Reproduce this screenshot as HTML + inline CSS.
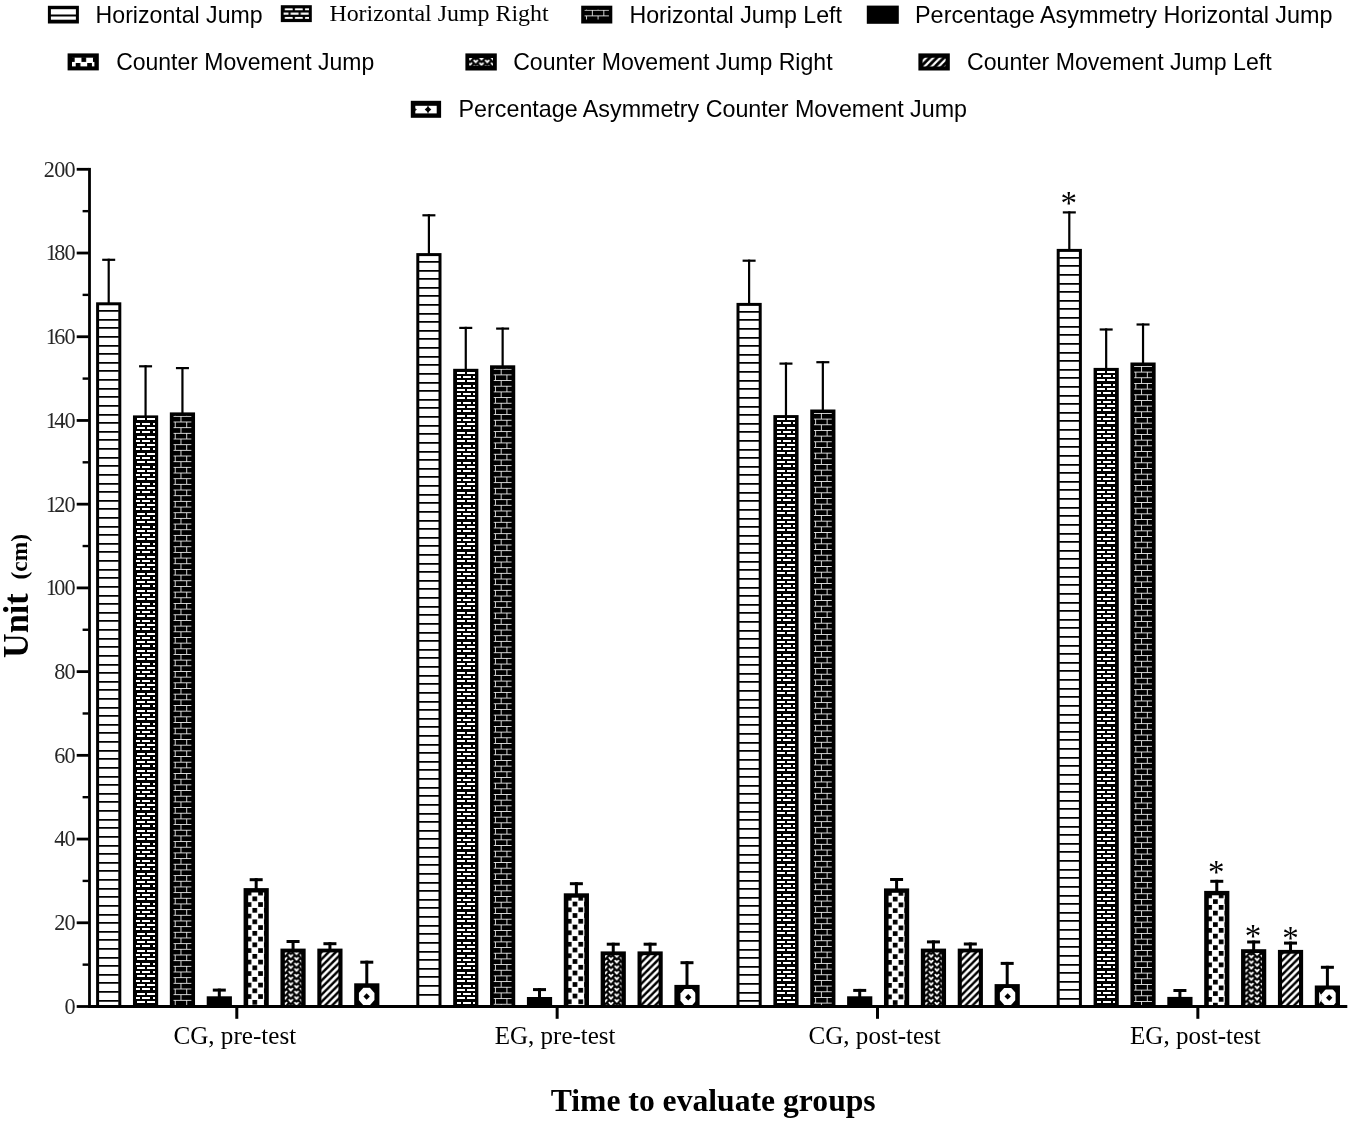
<!DOCTYPE html>
<html lang="en"><head><meta charset="utf-8"><title>Jump performance by group and time</title>
<style>html,body{margin:0;padding:0;background:#fff}svg{display:block;filter:grayscale(1)}</style></head><body>
<svg width="1350" height="1123" viewBox="0 0 1350 1123" fill="#000">
<rect width="1350" height="1123" fill="#fff"/>
<defs>
<pattern id="p1" patternUnits="userSpaceOnUse" x="0" y="4.29" width="40" height="8.62"><rect width="40" height="8.62" fill="#fff"/><rect y="3.36" width="40" height="1.9" fill="#000"/></pattern>
<pattern id="p2" patternUnits="userSpaceOnUse" x="3.9" y="3.03" width="10.1" height="8.57"><rect width="10.1" height="8.57" fill="#000"/><rect x="0" y="0" width="8.1" height="2" rx="0.8" fill="#fff"/><rect x="5.9" y="4.29" width="4.2" height="2.1" fill="#fff"/><rect x="0" y="4.29" width="3.9" height="2.1" fill="#fff"/></pattern>
<pattern id="p3" patternUnits="userSpaceOnUse" x="10.65" y="3.45" width="11.5" height="11.34"><rect width="11.5" height="11.34" fill="#000"/><g fill="#e8e8e8"><rect x="0" y="0" width="11.5" height="0.9"/><rect x="0" y="5.67" width="11.5" height="0.9"/><rect x="0" y="0" width="0.9" height="5.67"/><rect x="5.75" y="5.67" width="0.9" height="5.67"/></g></pattern>
<pattern id="p5" patternUnits="userSpaceOnUse" x="8.85" y="8.35" width="11.5" height="11.5"><rect width="11.5" height="11.5" fill="#fff"/><rect x="0" y="0" width="4.7" height="4.7" fill="#000"/><rect x="5.75" y="5.75" width="4.7" height="4.7" fill="#000"/></pattern>
<pattern id="p6" patternUnits="userSpaceOnUse" x="7.4" y="4.9" width="11.6" height="5.6"><rect width="11.6" height="5.6" fill="#000"/><g fill="#fff"><path transform="translate(2.9,2.8)" d="M-2.5,-1.8 L-1,-2 L0,-0.6 L1,-2 L2.5,-1.8 L2.3,-0.6 L0,1.8 L-2.3,-0.6 Z"/><path transform="translate(8.7,0)" d="M-2.5,-1.8 L-1,-2 L0,-0.6 L1,-2 L2.5,-1.8 L2.3,-0.6 L0,1.8 L-2.3,-0.6 Z"/><path transform="translate(8.7,5.6)" d="M-2.5,-1.8 L-1,-2 L0,-0.6 L1,-2 L2.5,-1.8 L2.3,-0.6 L0,1.8 L-2.3,-0.6 Z"/></g></pattern>
<pattern id="p7" patternUnits="userSpaceOnUse" x="4.2" y="0" width="7.1" height="7.1"><rect width="7.1" height="7.1" fill="#000"/><g stroke="#fff" stroke-width="2.6" stroke-linecap="square"><line x1="-7.1" y1="7.1" x2="7.1" y2="-7.1"/><line x1="0" y1="14.2" x2="14.2" y2="0"/><line x1="-7.1" y1="14.2" x2="14.2" y2="-7.1"/></g></pattern>
<pattern id="p2s" patternUnits="userSpaceOnUse" x="284.7" y="8.35" width="10.1" height="8.57"><rect width="10.1" height="8.57" fill="#000"/><rect x="0" y="0" width="8.1" height="2" rx="0.8" fill="#fff"/><rect x="5.9" y="4.29" width="4.2" height="2.1" fill="#fff"/><rect x="0" y="4.29" width="3.9" height="2.1" fill="#fff"/></pattern>
<pattern id="p3s" patternUnits="userSpaceOnUse" x="591.85" y="9.75" width="11.5" height="11.34"><rect width="11.5" height="11.34" fill="#000"/><g fill="#e8e8e8"><rect x="0" y="0" width="11.5" height="0.9"/><rect x="0" y="5.67" width="11.5" height="0.9"/><rect x="0" y="0" width="0.9" height="5.67"/><rect x="5.75" y="5.67" width="0.9" height="5.67"/></g></pattern>
<pattern id="p5s" patternUnits="userSpaceOnUse" x="81.45" y="57.25" width="11.5" height="11.5"><rect width="11.5" height="11.5" fill="#fff"/><rect x="0" y="0" width="4.7" height="4.7" fill="#000"/><rect x="5.75" y="5.75" width="4.7" height="4.7" fill="#000"/></pattern>
<pattern id="p6s" patternUnits="userSpaceOnUse" x="472.8" y="58.9" width="11.6" height="5.6"><rect width="11.6" height="5.6" fill="#000"/><g fill="#fff"><path transform="translate(2.9,2.8)" d="M-2.5,-1.8 L-1,-2 L0,-0.6 L1,-2 L2.5,-1.8 L2.3,-0.6 L0,1.8 L-2.3,-0.6 Z"/><path transform="translate(8.7,0)" d="M-2.5,-1.8 L-1,-2 L0,-0.6 L1,-2 L2.5,-1.8 L2.3,-0.6 L0,1.8 L-2.3,-0.6 Z"/><path transform="translate(8.7,5.6)" d="M-2.5,-1.8 L-1,-2 L0,-0.6 L1,-2 L2.5,-1.8 L2.3,-0.6 L0,1.8 L-2.3,-0.6 Z"/></g></pattern>
<pattern id="p7s" patternUnits="userSpaceOnUse" x="4.1" y="0" width="7.1" height="7.1"><rect width="7.1" height="7.1" fill="#000"/><g stroke="#fff" stroke-width="2.1" stroke-linecap="square"><line x1="-7.1" y1="7.1" x2="7.1" y2="-7.1"/><line x1="0" y1="14.2" x2="14.2" y2="0"/><line x1="-7.1" y1="14.2" x2="14.2" y2="-7.1"/></g></pattern>
</defs>
<g id="legend">
<rect x="47.9" y="5.8" width="31" height="17.7"/>
<rect x="50.9" y="9.2" width="25" height="5.3" fill="#fff"/>
<rect x="50.9" y="16.5" width="25" height="3.2" fill="#fff"/>
<text x="95.6" y="22.8" font-family='"Liberation Sans", Arial, sans-serif' font-size="23.4" textLength="167" lengthAdjust="spacingAndGlyphs">Horizontal Jump</text>
<rect x="280.8" y="5.2" width="31" height="16.9"/>
<rect x="283.6" y="8" width="25.4" height="11.3" fill="url(#p2s)"/>
<text x="329.4" y="20.7" font-family='"Liberation Serif", "Times New Roman", serif' font-size="22.2" textLength="219.2" lengthAdjust="spacingAndGlyphs">Horizontal Jump Right</text>
<rect x="581.2" y="5.7" width="31.1" height="17.8"/>
<rect x="584.6" y="9.65" width="24.3" height="9.85" fill="url(#p3s)"/>
<text x="629.4" y="22.7" font-family='"Liberation Sans", Arial, sans-serif' font-size="23.4" textLength="212.6" lengthAdjust="spacingAndGlyphs">Horizontal Jump Left</text>
<rect x="866.8" y="5.6" width="32" height="18.2"/>
<text x="915" y="22.6" font-family='"Liberation Sans", Arial, sans-serif' font-size="23.4" textLength="417.6" lengthAdjust="spacingAndGlyphs">Percentage Asymmetry Horizontal Jump</text>
<rect x="67.6" y="53.4" width="31.2" height="17"/>
<rect x="72" y="57.7" width="22.4" height="8.7" fill="url(#p5s)"/>
<text x="116.2" y="69.7" font-family='"Liberation Sans", Arial, sans-serif' font-size="23.4" textLength="258" lengthAdjust="spacingAndGlyphs">Counter Movement Jump</text>
<rect x="465.4" y="53.4" width="31.4" height="17.1"/>
<rect x="469.2" y="58" width="23.8" height="7.7" fill="url(#p6s)"/>
<text x="513.2" y="69.7" font-family='"Liberation Sans", Arial, sans-serif' font-size="23.4" textLength="319.4" lengthAdjust="spacingAndGlyphs">Counter Movement Jump Right</text>
<rect x="918.4" y="53.4" width="31.4" height="17.1"/>
<rect x="922.6" y="57.7" width="23" height="8.7" rx="1.5" fill="url(#p7s)"/>
<text x="967" y="69.7" font-family='"Liberation Sans", Arial, sans-serif' font-size="23.4" textLength="304.6" lengthAdjust="spacingAndGlyphs">Counter Movement Jump Left</text>
<rect x="410.8" y="100.8" width="30.3" height="17"/>
<rect x="415.3" y="105.8" width="21.4" height="7.6" fill="#fff"/>
<polygon points="424.7,109.6 428,106.6 431.3,109.6 428,112.6"/>
<rect x="427.5" y="105.8" width="1" height="7.6"/>
<polygon points="415.1,108.3 416.9,109.6 415.1,110.9"/>
<text x="458.6" y="117.2" font-family='"Liberation Sans", Arial, sans-serif' font-size="23.4" textLength="508.4" lengthAdjust="spacingAndGlyphs">Percentage Asymmetry Counter Movement Jump</text>
</g>
<g id="bars">
<rect x="107.6" y="258.7" width="2.2" height="44.6"/>
<rect x="102.2" y="258.7" width="13" height="2.2"/>
<rect x="96.1" y="302.3" width="25.2" height="705.7"/>
<rect x="99.1" y="305.3" width="19.2" height="699.7" fill="#fff"/>
<path d="M98.6,310h20.2v1.8h-20.2zM98.6,319h20.2v1.8h-20.2zM98.6,327h20.2v1.8h-20.2zM98.6,336h20.2v1.8h-20.2zM98.6,345h20.2v1.8h-20.2zM98.6,353h20.2v1.8h-20.2zM98.6,362h20.2v1.8h-20.2zM98.6,370h20.2v1.8h-20.2zM98.6,379h20.2v1.8h-20.2zM98.6,388h20.2v1.8h-20.2zM98.6,396h20.2v1.8h-20.2zM98.6,405h20.2v1.8h-20.2zM98.6,414h20.2v1.8h-20.2zM98.6,422h20.2v1.8h-20.2zM98.6,431h20.2v1.8h-20.2zM98.6,439h20.2v1.8h-20.2zM98.6,448h20.2v1.8h-20.2zM98.6,457h20.2v1.8h-20.2zM98.6,465h20.2v1.8h-20.2zM98.6,474h20.2v1.8h-20.2zM98.6,483h20.2v1.8h-20.2zM98.6,491h20.2v1.8h-20.2zM98.6,500h20.2v1.8h-20.2zM98.6,508h20.2v1.8h-20.2zM98.6,517h20.2v1.8h-20.2zM98.6,526h20.2v1.8h-20.2zM98.6,534h20.2v1.8h-20.2zM98.6,543h20.2v1.8h-20.2zM98.6,551h20.2v1.8h-20.2zM98.6,560h20.2v1.8h-20.2zM98.6,569h20.2v1.8h-20.2zM98.6,577h20.2v1.8h-20.2zM98.6,586h20.2v1.8h-20.2zM98.6,595h20.2v1.8h-20.2zM98.6,603h20.2v1.8h-20.2zM98.6,612h20.2v1.8h-20.2zM98.6,620h20.2v1.8h-20.2zM98.6,629h20.2v1.8h-20.2zM98.6,638h20.2v1.8h-20.2zM98.6,646h20.2v1.8h-20.2zM98.6,655h20.2v1.8h-20.2zM98.6,664h20.2v1.8h-20.2zM98.6,672h20.2v1.8h-20.2zM98.6,681h20.2v1.8h-20.2zM98.6,689h20.2v1.8h-20.2zM98.6,698h20.2v1.8h-20.2zM98.6,707h20.2v1.8h-20.2zM98.6,715h20.2v1.8h-20.2zM98.6,724h20.2v1.8h-20.2zM98.6,732h20.2v1.8h-20.2zM98.6,741h20.2v1.8h-20.2zM98.6,750h20.2v1.8h-20.2zM98.6,758h20.2v1.8h-20.2zM98.6,767h20.2v1.8h-20.2zM98.6,776h20.2v1.8h-20.2zM98.6,784h20.2v1.8h-20.2zM98.6,793h20.2v1.8h-20.2zM98.6,801h20.2v1.8h-20.2zM98.6,810h20.2v1.8h-20.2zM98.6,819h20.2v1.8h-20.2zM98.6,827h20.2v1.8h-20.2zM98.6,836h20.2v1.8h-20.2zM98.6,845h20.2v1.8h-20.2zM98.6,853h20.2v1.8h-20.2zM98.6,862h20.2v1.8h-20.2zM98.6,870h20.2v1.8h-20.2zM98.6,879h20.2v1.8h-20.2zM98.6,888h20.2v1.8h-20.2zM98.6,896h20.2v1.8h-20.2zM98.6,905h20.2v1.8h-20.2zM98.6,914h20.2v1.8h-20.2zM98.6,922h20.2v1.8h-20.2zM98.6,931h20.2v1.8h-20.2zM98.6,939h20.2v1.8h-20.2zM98.6,948h20.2v1.8h-20.2zM98.6,957h20.2v1.8h-20.2zM98.6,965h20.2v1.8h-20.2zM98.6,974h20.2v1.8h-20.2zM98.6,982h20.2v1.8h-20.2zM98.6,991h20.2v1.8h-20.2zM98.6,1000h20.2v1.8h-20.2z"/>
<rect x="144.47" y="365.2" width="2.2" height="51.2"/>
<rect x="139.07" y="365.2" width="13" height="2.2"/>
<rect x="132.97" y="415.4" width="25.2" height="592.6"/>
<path fill="#fff" d="M137,418h8v2h-8zM147,418h8v2h-8zM136,423h4v2h-4zM142,423h8v2h-8zM153,423h2v2h-2zM137,427h8v2h-8zM147,427h8v2h-8zM136,431h4v2h-4zM142,431h8v2h-8zM153,431h2v2h-2zM137,436h8v2h-8zM147,436h8v2h-8zM136,440h4v2h-4zM142,440h8v2h-8zM153,440h2v2h-2zM137,444h8v2h-8zM147,444h8v2h-8zM136,448h4v2h-4zM142,448h8v2h-8zM153,448h2v2h-2zM137,453h8v2h-8zM147,453h8v2h-8zM136,457h4v2h-4zM142,457h8v2h-8zM153,457h2v2h-2zM137,461h8v2h-8zM147,461h8v2h-8zM136,466h4v2h-4zM142,466h8v2h-8zM153,466h2v2h-2zM137,470h8v2h-8zM147,470h8v2h-8zM136,474h4v2h-4zM142,474h8v2h-8zM153,474h2v2h-2zM137,478h8v2h-8zM147,478h8v2h-8zM136,483h4v2h-4zM142,483h8v2h-8zM153,483h2v2h-2zM137,487h8v2h-8zM147,487h8v2h-8zM136,491h4v2h-4zM142,491h8v2h-8zM153,491h2v2h-2zM137,496h8v2h-8zM147,496h8v2h-8zM136,500h4v2h-4zM142,500h8v2h-8zM153,500h2v2h-2zM137,504h8v2h-8zM147,504h8v2h-8zM136,508h4v2h-4zM142,508h8v2h-8zM153,508h2v2h-2zM137,513h8v2h-8zM147,513h8v2h-8zM136,517h4v2h-4zM142,517h8v2h-8zM153,517h2v2h-2zM137,521h8v2h-8zM147,521h8v2h-8zM136,526h4v2h-4zM142,526h8v2h-8zM153,526h2v2h-2zM137,530h8v2h-8zM147,530h8v2h-8zM136,534h4v2h-4zM142,534h8v2h-8zM153,534h2v2h-2zM137,538h8v2h-8zM147,538h8v2h-8zM136,543h4v2h-4zM142,543h8v2h-8zM153,543h2v2h-2zM137,547h8v2h-8zM147,547h8v2h-8zM136,551h4v2h-4zM142,551h8v2h-8zM153,551h2v2h-2zM137,556h8v2h-8zM147,556h8v2h-8zM136,560h4v2h-4zM142,560h8v2h-8zM153,560h2v2h-2zM137,564h8v2h-8zM147,564h8v2h-8zM136,568h4v2h-4zM142,568h8v2h-8zM153,568h2v2h-2zM137,573h8v2h-8zM147,573h8v2h-8zM136,577h4v2h-4zM142,577h8v2h-8zM153,577h2v2h-2zM137,581h8v2h-8zM147,581h8v2h-8zM136,585h4v2h-4zM142,585h8v2h-8zM153,585h2v2h-2zM137,590h8v2h-8zM147,590h8v2h-8zM136,594h4v2h-4zM142,594h8v2h-8zM153,594h2v2h-2zM137,598h8v2h-8zM147,598h8v2h-8zM136,603h4v2h-4zM142,603h8v2h-8zM153,603h2v2h-2zM137,607h8v2h-8zM147,607h8v2h-8zM136,611h4v2h-4zM142,611h8v2h-8zM153,611h2v2h-2zM137,615h8v2h-8zM147,615h8v2h-8zM136,620h4v2h-4zM142,620h8v2h-8zM153,620h2v2h-2zM137,624h8v2h-8zM147,624h8v2h-8zM136,628h4v2h-4zM142,628h8v2h-8zM153,628h2v2h-2zM137,633h8v2h-8zM147,633h8v2h-8zM136,637h4v2h-4zM142,637h8v2h-8zM153,637h2v2h-2zM137,641h8v2h-8zM147,641h8v2h-8zM136,645h4v2h-4zM142,645h8v2h-8zM153,645h2v2h-2zM137,650h8v2h-8zM147,650h8v2h-8zM136,654h4v2h-4zM142,654h8v2h-8zM153,654h2v2h-2zM137,658h8v2h-8zM147,658h8v2h-8zM136,663h4v2h-4zM142,663h8v2h-8zM153,663h2v2h-2zM137,667h8v2h-8zM147,667h8v2h-8zM136,671h4v2h-4zM142,671h8v2h-8zM153,671h2v2h-2zM137,675h8v2h-8zM147,675h8v2h-8zM136,680h4v2h-4zM142,680h8v2h-8zM153,680h2v2h-2zM137,684h8v2h-8zM147,684h8v2h-8zM136,688h4v2h-4zM142,688h8v2h-8zM153,688h2v2h-2zM137,693h8v2h-8zM147,693h8v2h-8zM136,697h4v2h-4zM142,697h8v2h-8zM153,697h2v2h-2zM137,701h8v2h-8zM147,701h8v2h-8zM136,705h4v2h-4zM142,705h8v2h-8zM153,705h2v2h-2zM137,710h8v2h-8zM147,710h8v2h-8zM136,714h4v2h-4zM142,714h8v2h-8zM153,714h2v2h-2zM137,718h8v2h-8zM147,718h8v2h-8zM136,723h4v2h-4zM142,723h8v2h-8zM153,723h2v2h-2zM137,727h8v2h-8zM147,727h8v2h-8zM136,731h4v2h-4zM142,731h8v2h-8zM153,731h2v2h-2zM137,735h8v2h-8zM147,735h8v2h-8zM136,740h4v2h-4zM142,740h8v2h-8zM153,740h2v2h-2zM137,744h8v2h-8zM147,744h8v2h-8zM136,748h4v2h-4zM142,748h8v2h-8zM153,748h2v2h-2zM137,753h8v2h-8zM147,753h8v2h-8zM136,757h4v2h-4zM142,757h8v2h-8zM153,757h2v2h-2zM137,761h8v2h-8zM147,761h8v2h-8zM136,765h4v2h-4zM142,765h8v2h-8zM153,765h2v2h-2zM137,770h8v2h-8zM147,770h8v2h-8zM136,774h4v2h-4zM142,774h8v2h-8zM153,774h2v2h-2zM137,778h8v2h-8zM147,778h8v2h-8zM136,783h4v2h-4zM142,783h8v2h-8zM153,783h2v2h-2zM137,787h8v2h-8zM147,787h8v2h-8zM136,791h4v2h-4zM142,791h8v2h-8zM153,791h2v2h-2zM137,795h8v2h-8zM147,795h8v2h-8zM136,800h4v2h-4zM142,800h8v2h-8zM153,800h2v2h-2zM137,804h8v2h-8zM147,804h8v2h-8zM136,808h4v2h-4zM142,808h8v2h-8zM153,808h2v2h-2zM137,813h8v2h-8zM147,813h8v2h-8zM136,817h4v2h-4zM142,817h8v2h-8zM153,817h2v2h-2zM137,821h8v2h-8zM147,821h8v2h-8zM136,825h4v2h-4zM142,825h8v2h-8zM153,825h2v2h-2zM137,830h8v2h-8zM147,830h8v2h-8zM136,834h4v2h-4zM142,834h8v2h-8zM153,834h2v2h-2zM137,838h8v2h-8zM147,838h8v2h-8zM136,843h4v2h-4zM142,843h8v2h-8zM153,843h2v2h-2zM137,847h8v2h-8zM147,847h8v2h-8zM136,851h4v2h-4zM142,851h8v2h-8zM153,851h2v2h-2zM137,855h8v2h-8zM147,855h8v2h-8zM136,860h4v2h-4zM142,860h8v2h-8zM153,860h2v2h-2zM137,864h8v2h-8zM147,864h8v2h-8zM136,868h4v2h-4zM142,868h8v2h-8zM153,868h2v2h-2zM137,873h8v2h-8zM147,873h8v2h-8zM136,877h4v2h-4zM142,877h8v2h-8zM153,877h2v2h-2zM137,881h8v2h-8zM147,881h8v2h-8zM136,885h4v2h-4zM142,885h8v2h-8zM153,885h2v2h-2zM137,890h8v2h-8zM147,890h8v2h-8zM136,894h4v2h-4zM142,894h8v2h-8zM153,894h2v2h-2zM137,898h8v2h-8zM147,898h8v2h-8zM136,903h4v2h-4zM142,903h8v2h-8zM153,903h2v2h-2zM137,907h8v2h-8zM147,907h8v2h-8zM136,911h4v2h-4zM142,911h8v2h-8zM153,911h2v2h-2zM137,915h8v2h-8zM147,915h8v2h-8zM136,920h4v2h-4zM142,920h8v2h-8zM153,920h2v2h-2zM137,924h8v2h-8zM147,924h8v2h-8zM136,928h4v2h-4zM142,928h8v2h-8zM153,928h2v2h-2zM137,933h8v2h-8zM147,933h8v2h-8zM136,937h4v2h-4zM142,937h8v2h-8zM153,937h2v2h-2zM137,941h8v2h-8zM147,941h8v2h-8zM136,945h4v2h-4zM142,945h8v2h-8zM153,945h2v2h-2zM137,950h8v2h-8zM147,950h8v2h-8zM136,954h4v2h-4zM142,954h8v2h-8zM153,954h2v2h-2zM137,958h8v2h-8zM147,958h8v2h-8zM136,963h4v2h-4zM142,963h8v2h-8zM153,963h2v2h-2zM137,967h8v2h-8zM147,967h8v2h-8zM136,971h4v2h-4zM142,971h8v2h-8zM153,971h2v2h-2zM137,975h8v2h-8zM147,975h8v2h-8zM136,980h4v2h-4zM142,980h8v2h-8zM153,980h2v2h-2zM137,984h8v2h-8zM147,984h8v2h-8zM136,988h4v2h-4zM142,988h8v2h-8zM153,988h2v2h-2zM137,993h8v2h-8zM147,993h8v2h-8zM136,997h4v2h-4zM142,997h8v2h-8zM153,997h2v2h-2zM137,1001h8v2h-8zM147,1001h8v2h-8z"/>
<rect x="181.34" y="367" width="2.2" height="46.4"/>
<rect x="175.94" y="367" width="13" height="2.2"/>
<rect x="169.84" y="412.4" width="25.2" height="595.6"/>
<rect transform="translate(169.84,412.4)" x="3.7" y="3.45" width="17.8" height="589.15" fill="url(#p3)"/>
<rect x="217.81" y="988.6" width="3" height="8.7"/>
<rect x="212.81" y="988.6" width="13" height="3"/>
<rect x="206.71" y="996.3" width="25.2" height="11.7"/>
<rect x="254.68" y="878.2" width="3" height="10.9"/>
<rect x="249.68" y="878.2" width="13" height="3"/>
<rect x="243.58" y="888.1" width="25.2" height="119.9"/>
<rect transform="translate(243.58,888.1)" x="4.6" y="4.4" width="16" height="112.5" fill="url(#p5)"/>
<rect x="291.55" y="940" width="3" height="9.6"/>
<rect x="286.55" y="940" width="13" height="3"/>
<rect x="280.45" y="948.6" width="25.2" height="59.4"/>
<rect transform="translate(280.45,948.6)" x="4.4" y="3.8" width="16.4" height="52.6" fill="url(#p6)"/>
<rect x="328.42" y="942.2" width="3" height="7.4"/>
<rect x="323.42" y="942.2" width="13" height="3"/>
<rect x="317.32" y="948.6" width="25.2" height="59.4"/>
<rect transform="translate(317.32,948.6)" x="4.1" y="3.8" width="17" height="52.6" fill="url(#p7)"/>
<rect x="365.29" y="960.7" width="3" height="23.6"/>
<rect x="360.29" y="960.7" width="13" height="3"/>
<rect x="354.19" y="983.3" width="25.2" height="24.7"/>
<clipPath id="c1"><rect x="358.49" y="987.3" width="16.6" height="17.7"/></clipPath>
<g clip-path="url(#c1)"><polygon points="374.43,1000.11 369.87,1005.21 363.41,1005.21 358.85,1000.11 358.85,992.89 363.41,987.79 369.87,987.79 374.43,992.89" fill="#fff"/><polygon points="363.44,996.5 366.64,993.3 369.84,996.5 366.64,999.7" fill="#000"/>
</g>
<rect x="427.8" y="214.2" width="2.2" height="39.9"/>
<rect x="422.4" y="214.2" width="13" height="2.2"/>
<rect x="416.3" y="253.1" width="25.2" height="754.9"/>
<rect x="419.3" y="256.1" width="19.2" height="748.9" fill="#fff"/>
<path d="M418.8,261h20.2v1.8h-20.2zM418.8,270h20.2v1.8h-20.2zM418.8,278h20.2v1.8h-20.2zM418.8,287h20.2v1.8h-20.2zM418.8,295h20.2v1.8h-20.2zM418.8,304h20.2v1.8h-20.2zM418.8,313h20.2v1.8h-20.2zM418.8,321h20.2v1.8h-20.2zM418.8,330h20.2v1.8h-20.2zM418.8,338h20.2v1.8h-20.2zM418.8,347h20.2v1.8h-20.2zM418.8,356h20.2v1.8h-20.2zM418.8,364h20.2v1.8h-20.2zM418.8,373h20.2v1.8h-20.2zM418.8,382h20.2v1.8h-20.2zM418.8,390h20.2v1.8h-20.2zM418.8,399h20.2v1.8h-20.2zM418.8,407h20.2v1.8h-20.2zM418.8,416h20.2v1.8h-20.2zM418.8,425h20.2v1.8h-20.2zM418.8,433h20.2v1.8h-20.2zM418.8,442h20.2v1.8h-20.2zM418.8,451h20.2v1.8h-20.2zM418.8,459h20.2v1.8h-20.2zM418.8,468h20.2v1.8h-20.2zM418.8,476h20.2v1.8h-20.2zM418.8,485h20.2v1.8h-20.2zM418.8,494h20.2v1.8h-20.2zM418.8,502h20.2v1.8h-20.2zM418.8,511h20.2v1.8h-20.2zM418.8,520h20.2v1.8h-20.2zM418.8,528h20.2v1.8h-20.2zM418.8,537h20.2v1.8h-20.2zM418.8,545h20.2v1.8h-20.2zM418.8,554h20.2v1.8h-20.2zM418.8,563h20.2v1.8h-20.2zM418.8,571h20.2v1.8h-20.2zM418.8,580h20.2v1.8h-20.2zM418.8,588h20.2v1.8h-20.2zM418.8,597h20.2v1.8h-20.2zM418.8,606h20.2v1.8h-20.2zM418.8,614h20.2v1.8h-20.2zM418.8,623h20.2v1.8h-20.2zM418.8,632h20.2v1.8h-20.2zM418.8,640h20.2v1.8h-20.2zM418.8,649h20.2v1.8h-20.2zM418.8,657h20.2v1.8h-20.2zM418.8,666h20.2v1.8h-20.2zM418.8,675h20.2v1.8h-20.2zM418.8,683h20.2v1.8h-20.2zM418.8,692h20.2v1.8h-20.2zM418.8,701h20.2v1.8h-20.2zM418.8,709h20.2v1.8h-20.2zM418.8,718h20.2v1.8h-20.2zM418.8,726h20.2v1.8h-20.2zM418.8,735h20.2v1.8h-20.2zM418.8,744h20.2v1.8h-20.2zM418.8,752h20.2v1.8h-20.2zM418.8,761h20.2v1.8h-20.2zM418.8,769h20.2v1.8h-20.2zM418.8,778h20.2v1.8h-20.2zM418.8,787h20.2v1.8h-20.2zM418.8,795h20.2v1.8h-20.2zM418.8,804h20.2v1.8h-20.2zM418.8,813h20.2v1.8h-20.2zM418.8,821h20.2v1.8h-20.2zM418.8,830h20.2v1.8h-20.2zM418.8,838h20.2v1.8h-20.2zM418.8,847h20.2v1.8h-20.2zM418.8,856h20.2v1.8h-20.2zM418.8,864h20.2v1.8h-20.2zM418.8,873h20.2v1.8h-20.2zM418.8,882h20.2v1.8h-20.2zM418.8,890h20.2v1.8h-20.2zM418.8,899h20.2v1.8h-20.2zM418.8,907h20.2v1.8h-20.2zM418.8,916h20.2v1.8h-20.2zM418.8,925h20.2v1.8h-20.2zM418.8,933h20.2v1.8h-20.2zM418.8,942h20.2v1.8h-20.2zM418.8,951h20.2v1.8h-20.2zM418.8,959h20.2v1.8h-20.2zM418.8,968h20.2v1.8h-20.2zM418.8,976h20.2v1.8h-20.2zM418.8,985h20.2v1.8h-20.2zM418.8,994h20.2v1.8h-20.2z"/>
<rect x="464.67" y="326.8" width="2.2" height="43"/>
<rect x="459.27" y="326.8" width="13" height="2.2"/>
<rect x="453.17" y="368.8" width="25.2" height="639.2"/>
<path fill="#fff" d="M457,372h8v2h-8zM467,372h8v2h-8zM457,376h4v2h-4zM463,376h8v2h-8zM473,376h2v2h-2zM457,380h8v2h-8zM467,380h8v2h-8zM457,385h4v2h-4zM463,385h8v2h-8zM473,385h2v2h-2zM457,389h8v2h-8zM467,389h8v2h-8zM457,393h4v2h-4zM463,393h8v2h-8zM473,393h2v2h-2zM457,397h8v2h-8zM467,397h8v2h-8zM457,402h4v2h-4zM463,402h8v2h-8zM473,402h2v2h-2zM457,406h8v2h-8zM467,406h8v2h-8zM457,410h4v2h-4zM463,410h8v2h-8zM473,410h2v2h-2zM457,415h8v2h-8zM467,415h8v2h-8zM457,419h4v2h-4zM463,419h8v2h-8zM473,419h2v2h-2zM457,423h8v2h-8zM467,423h8v2h-8zM457,427h4v2h-4zM463,427h8v2h-8zM473,427h2v2h-2zM457,432h8v2h-8zM467,432h8v2h-8zM457,436h4v2h-4zM463,436h8v2h-8zM473,436h2v2h-2zM457,440h8v2h-8zM467,440h8v2h-8zM457,445h4v2h-4zM463,445h8v2h-8zM473,445h2v2h-2zM457,449h8v2h-8zM467,449h8v2h-8zM457,453h4v2h-4zM463,453h8v2h-8zM473,453h2v2h-2zM457,457h8v2h-8zM467,457h8v2h-8zM457,462h4v2h-4zM463,462h8v2h-8zM473,462h2v2h-2zM457,466h8v2h-8zM467,466h8v2h-8zM457,470h4v2h-4zM463,470h8v2h-8zM473,470h2v2h-2zM457,475h8v2h-8zM467,475h8v2h-8zM457,479h4v2h-4zM463,479h8v2h-8zM473,479h2v2h-2zM457,483h8v2h-8zM467,483h8v2h-8zM457,487h4v2h-4zM463,487h8v2h-8zM473,487h2v2h-2zM457,492h8v2h-8zM467,492h8v2h-8zM457,496h4v2h-4zM463,496h8v2h-8zM473,496h2v2h-2zM457,500h8v2h-8zM467,500h8v2h-8zM457,505h4v2h-4zM463,505h8v2h-8zM473,505h2v2h-2zM457,509h8v2h-8zM467,509h8v2h-8zM457,513h4v2h-4zM463,513h8v2h-8zM473,513h2v2h-2zM457,517h8v2h-8zM467,517h8v2h-8zM457,522h4v2h-4zM463,522h8v2h-8zM473,522h2v2h-2zM457,526h8v2h-8zM467,526h8v2h-8zM457,530h4v2h-4zM463,530h8v2h-8zM473,530h2v2h-2zM457,535h8v2h-8zM467,535h8v2h-8zM457,539h4v2h-4zM463,539h8v2h-8zM473,539h2v2h-2zM457,543h8v2h-8zM467,543h8v2h-8zM457,547h4v2h-4zM463,547h8v2h-8zM473,547h2v2h-2zM457,552h8v2h-8zM467,552h8v2h-8zM457,556h4v2h-4zM463,556h8v2h-8zM473,556h2v2h-2zM457,560h8v2h-8zM467,560h8v2h-8zM457,565h4v2h-4zM463,565h8v2h-8zM473,565h2v2h-2zM457,569h8v2h-8zM467,569h8v2h-8zM457,573h4v2h-4zM463,573h8v2h-8zM473,573h2v2h-2zM457,577h8v2h-8zM467,577h8v2h-8zM457,582h4v2h-4zM463,582h8v2h-8zM473,582h2v2h-2zM457,586h8v2h-8zM467,586h8v2h-8zM457,590h4v2h-4zM463,590h8v2h-8zM473,590h2v2h-2zM457,595h8v2h-8zM467,595h8v2h-8zM457,599h4v2h-4zM463,599h8v2h-8zM473,599h2v2h-2zM457,603h8v2h-8zM467,603h8v2h-8zM457,607h4v2h-4zM463,607h8v2h-8zM473,607h2v2h-2zM457,612h8v2h-8zM467,612h8v2h-8zM457,616h4v2h-4zM463,616h8v2h-8zM473,616h2v2h-2zM457,620h8v2h-8zM467,620h8v2h-8zM457,625h4v2h-4zM463,625h8v2h-8zM473,625h2v2h-2zM457,629h8v2h-8zM467,629h8v2h-8zM457,633h4v2h-4zM463,633h8v2h-8zM473,633h2v2h-2zM457,637h8v2h-8zM467,637h8v2h-8zM457,642h4v2h-4zM463,642h8v2h-8zM473,642h2v2h-2zM457,646h8v2h-8zM467,646h8v2h-8zM457,650h4v2h-4zM463,650h8v2h-8zM473,650h2v2h-2zM457,655h8v2h-8zM467,655h8v2h-8zM457,659h4v2h-4zM463,659h8v2h-8zM473,659h2v2h-2zM457,663h8v2h-8zM467,663h8v2h-8zM457,667h4v2h-4zM463,667h8v2h-8zM473,667h2v2h-2zM457,672h8v2h-8zM467,672h8v2h-8zM457,676h4v2h-4zM463,676h8v2h-8zM473,676h2v2h-2zM457,680h8v2h-8zM467,680h8v2h-8zM457,685h4v2h-4zM463,685h8v2h-8zM473,685h2v2h-2zM457,689h8v2h-8zM467,689h8v2h-8zM457,693h4v2h-4zM463,693h8v2h-8zM473,693h2v2h-2zM457,697h8v2h-8zM467,697h8v2h-8zM457,702h4v2h-4zM463,702h8v2h-8zM473,702h2v2h-2zM457,706h8v2h-8zM467,706h8v2h-8zM457,710h4v2h-4zM463,710h8v2h-8zM473,710h2v2h-2zM457,715h8v2h-8zM467,715h8v2h-8zM457,719h4v2h-4zM463,719h8v2h-8zM473,719h2v2h-2zM457,723h8v2h-8zM467,723h8v2h-8zM457,727h4v2h-4zM463,727h8v2h-8zM473,727h2v2h-2zM457,732h8v2h-8zM467,732h8v2h-8zM457,736h4v2h-4zM463,736h8v2h-8zM473,736h2v2h-2zM457,740h8v2h-8zM467,740h8v2h-8zM457,745h4v2h-4zM463,745h8v2h-8zM473,745h2v2h-2zM457,749h8v2h-8zM467,749h8v2h-8zM457,753h4v2h-4zM463,753h8v2h-8zM473,753h2v2h-2zM457,757h8v2h-8zM467,757h8v2h-8zM457,762h4v2h-4zM463,762h8v2h-8zM473,762h2v2h-2zM457,766h8v2h-8zM467,766h8v2h-8zM457,770h4v2h-4zM463,770h8v2h-8zM473,770h2v2h-2zM457,775h8v2h-8zM467,775h8v2h-8zM457,779h4v2h-4zM463,779h8v2h-8zM473,779h2v2h-2zM457,783h8v2h-8zM467,783h8v2h-8zM457,787h4v2h-4zM463,787h8v2h-8zM473,787h2v2h-2zM457,792h8v2h-8zM467,792h8v2h-8zM457,796h4v2h-4zM463,796h8v2h-8zM473,796h2v2h-2zM457,800h8v2h-8zM467,800h8v2h-8zM457,805h4v2h-4zM463,805h8v2h-8zM473,805h2v2h-2zM457,809h8v2h-8zM467,809h8v2h-8zM457,813h4v2h-4zM463,813h8v2h-8zM473,813h2v2h-2zM457,817h8v2h-8zM467,817h8v2h-8zM457,822h4v2h-4zM463,822h8v2h-8zM473,822h2v2h-2zM457,826h8v2h-8zM467,826h8v2h-8zM457,830h4v2h-4zM463,830h8v2h-8zM473,830h2v2h-2zM457,835h8v2h-8zM467,835h8v2h-8zM457,839h4v2h-4zM463,839h8v2h-8zM473,839h2v2h-2zM457,843h8v2h-8zM467,843h8v2h-8zM457,847h4v2h-4zM463,847h8v2h-8zM473,847h2v2h-2zM457,852h8v2h-8zM467,852h8v2h-8zM457,856h4v2h-4zM463,856h8v2h-8zM473,856h2v2h-2zM457,860h8v2h-8zM467,860h8v2h-8zM457,865h4v2h-4zM463,865h8v2h-8zM473,865h2v2h-2zM457,869h8v2h-8zM467,869h8v2h-8zM457,873h4v2h-4zM463,873h8v2h-8zM473,873h2v2h-2zM457,877h8v2h-8zM467,877h8v2h-8zM457,882h4v2h-4zM463,882h8v2h-8zM473,882h2v2h-2zM457,886h8v2h-8zM467,886h8v2h-8zM457,890h4v2h-4zM463,890h8v2h-8zM473,890h2v2h-2zM457,895h8v2h-8zM467,895h8v2h-8zM457,899h4v2h-4zM463,899h8v2h-8zM473,899h2v2h-2zM457,903h8v2h-8zM467,903h8v2h-8zM457,907h4v2h-4zM463,907h8v2h-8zM473,907h2v2h-2zM457,912h8v2h-8zM467,912h8v2h-8zM457,916h4v2h-4zM463,916h8v2h-8zM473,916h2v2h-2zM457,920h8v2h-8zM467,920h8v2h-8zM457,925h4v2h-4zM463,925h8v2h-8zM473,925h2v2h-2zM457,929h8v2h-8zM467,929h8v2h-8zM457,933h4v2h-4zM463,933h8v2h-8zM473,933h2v2h-2zM457,937h8v2h-8zM467,937h8v2h-8zM457,942h4v2h-4zM463,942h8v2h-8zM473,942h2v2h-2zM457,946h8v2h-8zM467,946h8v2h-8zM457,950h4v2h-4zM463,950h8v2h-8zM473,950h2v2h-2zM457,955h8v2h-8zM467,955h8v2h-8zM457,959h4v2h-4zM463,959h8v2h-8zM473,959h2v2h-2zM457,963h8v2h-8zM467,963h8v2h-8zM457,967h4v2h-4zM463,967h8v2h-8zM473,967h2v2h-2zM457,972h8v2h-8zM467,972h8v2h-8zM457,976h4v2h-4zM463,976h8v2h-8zM473,976h2v2h-2zM457,980h8v2h-8zM467,980h8v2h-8zM457,985h4v2h-4zM463,985h8v2h-8zM473,985h2v2h-2zM457,989h8v2h-8zM467,989h8v2h-8zM457,993h4v2h-4zM463,993h8v2h-8zM473,993h2v2h-2zM457,997h8v2h-8zM467,997h8v2h-8zM457,1002h4v2h-4zM463,1002h8v2h-8zM473,1002h2v2h-2z"/>
<rect x="501.54" y="327.5" width="2.2" height="38.8"/>
<rect x="496.14" y="327.5" width="13" height="2.2"/>
<rect x="490.04" y="365.3" width="25.2" height="642.7"/>
<rect transform="translate(490.04,365.3)" x="3.7" y="3.45" width="17.8" height="636.25" fill="url(#p3)"/>
<rect x="538.01" y="988.1" width="3" height="9.9"/>
<rect x="533.01" y="988.1" width="13" height="3"/>
<rect x="526.91" y="997" width="25.2" height="11"/>
<rect x="574.88" y="882.2" width="3" height="12.1"/>
<rect x="569.88" y="882.2" width="13" height="3"/>
<rect x="563.78" y="893.3" width="25.2" height="114.7"/>
<rect transform="translate(563.78,893.3)" x="4.6" y="4.4" width="16" height="107.3" fill="url(#p5)"/>
<rect x="611.75" y="942.7" width="3" height="9.7"/>
<rect x="606.75" y="942.7" width="13" height="3"/>
<rect x="600.65" y="951.4" width="25.2" height="56.6"/>
<rect transform="translate(600.65,951.4)" x="4.4" y="3.8" width="16.4" height="49.8" fill="url(#p6)"/>
<rect x="648.62" y="942.7" width="3" height="9.7"/>
<rect x="643.62" y="942.7" width="13" height="3"/>
<rect x="637.52" y="951.4" width="25.2" height="56.6"/>
<rect transform="translate(637.52,951.4)" x="4.1" y="3.8" width="17" height="49.8" fill="url(#p7)"/>
<rect x="685.49" y="961.2" width="3" height="24.7"/>
<rect x="680.49" y="961.2" width="13" height="3"/>
<rect x="674.39" y="984.9" width="25.2" height="23.1"/>
<clipPath id="c2"><rect x="678.69" y="988.9" width="16.6" height="16.1"/></clipPath>
<g clip-path="url(#c2)"><polygon points="696.03,1000.81 691.47,1005.91 685.01,1005.91 680.45,1000.81 680.45,993.59 685.01,988.49 691.47,988.49 696.03,993.59" fill="#fff"/><polygon points="685.04,997.2 688.24,994 691.44,997.2 688.24,1000.4" fill="#000"/>
</g>
<rect x="748" y="259.6" width="2.2" height="44.3"/>
<rect x="742.6" y="259.6" width="13" height="2.2"/>
<rect x="736.5" y="302.9" width="25.2" height="705.1"/>
<rect x="739.5" y="305.9" width="19.2" height="699.1" fill="#fff"/>
<path d="M739,311h20.2v1.8h-20.2zM739,319h20.2v1.8h-20.2zM739,328h20.2v1.8h-20.2zM739,337h20.2v1.8h-20.2zM739,345h20.2v1.8h-20.2zM739,354h20.2v1.8h-20.2zM739,362h20.2v1.8h-20.2zM739,371h20.2v1.8h-20.2zM739,380h20.2v1.8h-20.2zM739,388h20.2v1.8h-20.2zM739,397h20.2v1.8h-20.2zM739,406h20.2v1.8h-20.2zM739,414h20.2v1.8h-20.2zM739,423h20.2v1.8h-20.2zM739,431h20.2v1.8h-20.2zM739,440h20.2v1.8h-20.2zM739,449h20.2v1.8h-20.2zM739,457h20.2v1.8h-20.2zM739,466h20.2v1.8h-20.2zM739,474h20.2v1.8h-20.2zM739,483h20.2v1.8h-20.2zM739,492h20.2v1.8h-20.2zM739,500h20.2v1.8h-20.2zM739,509h20.2v1.8h-20.2zM739,518h20.2v1.8h-20.2zM739,526h20.2v1.8h-20.2zM739,535h20.2v1.8h-20.2zM739,543h20.2v1.8h-20.2zM739,552h20.2v1.8h-20.2zM739,561h20.2v1.8h-20.2zM739,569h20.2v1.8h-20.2zM739,578h20.2v1.8h-20.2zM739,587h20.2v1.8h-20.2zM739,595h20.2v1.8h-20.2zM739,604h20.2v1.8h-20.2zM739,612h20.2v1.8h-20.2zM739,621h20.2v1.8h-20.2zM739,630h20.2v1.8h-20.2zM739,638h20.2v1.8h-20.2zM739,647h20.2v1.8h-20.2zM739,656h20.2v1.8h-20.2zM739,664h20.2v1.8h-20.2zM739,673h20.2v1.8h-20.2zM739,681h20.2v1.8h-20.2zM739,690h20.2v1.8h-20.2zM739,699h20.2v1.8h-20.2zM739,707h20.2v1.8h-20.2zM739,716h20.2v1.8h-20.2zM739,724h20.2v1.8h-20.2zM739,733h20.2v1.8h-20.2zM739,742h20.2v1.8h-20.2zM739,750h20.2v1.8h-20.2zM739,759h20.2v1.8h-20.2zM739,768h20.2v1.8h-20.2zM739,776h20.2v1.8h-20.2zM739,785h20.2v1.8h-20.2zM739,793h20.2v1.8h-20.2zM739,802h20.2v1.8h-20.2zM739,811h20.2v1.8h-20.2zM739,819h20.2v1.8h-20.2zM739,828h20.2v1.8h-20.2zM739,837h20.2v1.8h-20.2zM739,845h20.2v1.8h-20.2zM739,854h20.2v1.8h-20.2zM739,862h20.2v1.8h-20.2zM739,871h20.2v1.8h-20.2zM739,880h20.2v1.8h-20.2zM739,888h20.2v1.8h-20.2zM739,897h20.2v1.8h-20.2zM739,905h20.2v1.8h-20.2zM739,914h20.2v1.8h-20.2zM739,923h20.2v1.8h-20.2zM739,931h20.2v1.8h-20.2zM739,940h20.2v1.8h-20.2zM739,949h20.2v1.8h-20.2zM739,957h20.2v1.8h-20.2zM739,966h20.2v1.8h-20.2zM739,974h20.2v1.8h-20.2zM739,983h20.2v1.8h-20.2zM739,992h20.2v1.8h-20.2zM739,1000h20.2v1.8h-20.2z"/>
<rect x="784.87" y="362.5" width="2.2" height="53.6"/>
<rect x="779.47" y="362.5" width="13" height="2.2"/>
<rect x="773.37" y="415.1" width="25.2" height="592.9"/>
<path fill="#fff" d="M777,418h8v2h-8zM787,418h8v2h-8zM777,422h4v2h-4zM783,422h8v2h-8zM793,422h2v2h-2zM777,427h8v2h-8zM787,427h8v2h-8zM777,431h4v2h-4zM783,431h8v2h-8zM793,431h2v2h-2zM777,435h8v2h-8zM787,435h8v2h-8zM777,440h4v2h-4zM783,440h8v2h-8zM793,440h2v2h-2zM777,444h8v2h-8zM787,444h8v2h-8zM777,448h4v2h-4zM783,448h8v2h-8zM793,448h2v2h-2zM777,452h8v2h-8zM787,452h8v2h-8zM777,457h4v2h-4zM783,457h8v2h-8zM793,457h2v2h-2zM777,461h8v2h-8zM787,461h8v2h-8zM777,465h4v2h-4zM783,465h8v2h-8zM793,465h2v2h-2zM777,470h8v2h-8zM787,470h8v2h-8zM777,474h4v2h-4zM783,474h8v2h-8zM793,474h2v2h-2zM777,478h8v2h-8zM787,478h8v2h-8zM777,482h4v2h-4zM783,482h8v2h-8zM793,482h2v2h-2zM777,487h8v2h-8zM787,487h8v2h-8zM777,491h4v2h-4zM783,491h8v2h-8zM793,491h2v2h-2zM777,495h8v2h-8zM787,495h8v2h-8zM777,499h4v2h-4zM783,499h8v2h-8zM793,499h2v2h-2zM777,504h8v2h-8zM787,504h8v2h-8zM777,508h4v2h-4zM783,508h8v2h-8zM793,508h2v2h-2zM777,512h8v2h-8zM787,512h8v2h-8zM777,517h4v2h-4zM783,517h8v2h-8zM793,517h2v2h-2zM777,521h8v2h-8zM787,521h8v2h-8zM777,525h4v2h-4zM783,525h8v2h-8zM793,525h2v2h-2zM777,529h8v2h-8zM787,529h8v2h-8zM777,534h4v2h-4zM783,534h8v2h-8zM793,534h2v2h-2zM777,538h8v2h-8zM787,538h8v2h-8zM777,542h4v2h-4zM783,542h8v2h-8zM793,542h2v2h-2zM777,547h8v2h-8zM787,547h8v2h-8zM777,551h4v2h-4zM783,551h8v2h-8zM793,551h2v2h-2zM777,555h8v2h-8zM787,555h8v2h-8zM777,559h4v2h-4zM783,559h8v2h-8zM793,559h2v2h-2zM777,564h8v2h-8zM787,564h8v2h-8zM777,568h4v2h-4zM783,568h8v2h-8zM793,568h2v2h-2zM777,572h8v2h-8zM787,572h8v2h-8zM777,577h4v2h-4zM783,577h8v2h-8zM793,577h2v2h-2zM777,581h8v2h-8zM787,581h8v2h-8zM777,585h4v2h-4zM783,585h8v2h-8zM793,585h2v2h-2zM777,589h8v2h-8zM787,589h8v2h-8zM777,594h4v2h-4zM783,594h8v2h-8zM793,594h2v2h-2zM777,598h8v2h-8zM787,598h8v2h-8zM777,602h4v2h-4zM783,602h8v2h-8zM793,602h2v2h-2zM777,607h8v2h-8zM787,607h8v2h-8zM777,611h4v2h-4zM783,611h8v2h-8zM793,611h2v2h-2zM777,615h8v2h-8zM787,615h8v2h-8zM777,619h4v2h-4zM783,619h8v2h-8zM793,619h2v2h-2zM777,624h8v2h-8zM787,624h8v2h-8zM777,628h4v2h-4zM783,628h8v2h-8zM793,628h2v2h-2zM777,632h8v2h-8zM787,632h8v2h-8zM777,637h4v2h-4zM783,637h8v2h-8zM793,637h2v2h-2zM777,641h8v2h-8zM787,641h8v2h-8zM777,645h4v2h-4zM783,645h8v2h-8zM793,645h2v2h-2zM777,649h8v2h-8zM787,649h8v2h-8zM777,654h4v2h-4zM783,654h8v2h-8zM793,654h2v2h-2zM777,658h8v2h-8zM787,658h8v2h-8zM777,662h4v2h-4zM783,662h8v2h-8zM793,662h2v2h-2zM777,667h8v2h-8zM787,667h8v2h-8zM777,671h4v2h-4zM783,671h8v2h-8zM793,671h2v2h-2zM777,675h8v2h-8zM787,675h8v2h-8zM777,679h4v2h-4zM783,679h8v2h-8zM793,679h2v2h-2zM777,684h8v2h-8zM787,684h8v2h-8zM777,688h4v2h-4zM783,688h8v2h-8zM793,688h2v2h-2zM777,692h8v2h-8zM787,692h8v2h-8zM777,697h4v2h-4zM783,697h8v2h-8zM793,697h2v2h-2zM777,701h8v2h-8zM787,701h8v2h-8zM777,705h4v2h-4zM783,705h8v2h-8zM793,705h2v2h-2zM777,709h8v2h-8zM787,709h8v2h-8zM777,714h4v2h-4zM783,714h8v2h-8zM793,714h2v2h-2zM777,718h8v2h-8zM787,718h8v2h-8zM777,722h4v2h-4zM783,722h8v2h-8zM793,722h2v2h-2zM777,727h8v2h-8zM787,727h8v2h-8zM777,731h4v2h-4zM783,731h8v2h-8zM793,731h2v2h-2zM777,735h8v2h-8zM787,735h8v2h-8zM777,739h4v2h-4zM783,739h8v2h-8zM793,739h2v2h-2zM777,744h8v2h-8zM787,744h8v2h-8zM777,748h4v2h-4zM783,748h8v2h-8zM793,748h2v2h-2zM777,752h8v2h-8zM787,752h8v2h-8zM777,757h4v2h-4zM783,757h8v2h-8zM793,757h2v2h-2zM777,761h8v2h-8zM787,761h8v2h-8zM777,765h4v2h-4zM783,765h8v2h-8zM793,765h2v2h-2zM777,769h8v2h-8zM787,769h8v2h-8zM777,774h4v2h-4zM783,774h8v2h-8zM793,774h2v2h-2zM777,778h8v2h-8zM787,778h8v2h-8zM777,782h4v2h-4zM783,782h8v2h-8zM793,782h2v2h-2zM777,787h8v2h-8zM787,787h8v2h-8zM777,791h4v2h-4zM783,791h8v2h-8zM793,791h2v2h-2zM777,795h8v2h-8zM787,795h8v2h-8zM777,799h4v2h-4zM783,799h8v2h-8zM793,799h2v2h-2zM777,804h8v2h-8zM787,804h8v2h-8zM777,808h4v2h-4zM783,808h8v2h-8zM793,808h2v2h-2zM777,812h8v2h-8zM787,812h8v2h-8zM777,817h4v2h-4zM783,817h8v2h-8zM793,817h2v2h-2zM777,821h8v2h-8zM787,821h8v2h-8zM777,825h4v2h-4zM783,825h8v2h-8zM793,825h2v2h-2zM777,829h8v2h-8zM787,829h8v2h-8zM777,834h4v2h-4zM783,834h8v2h-8zM793,834h2v2h-2zM777,838h8v2h-8zM787,838h8v2h-8zM777,842h4v2h-4zM783,842h8v2h-8zM793,842h2v2h-2zM777,847h8v2h-8zM787,847h8v2h-8zM777,851h4v2h-4zM783,851h8v2h-8zM793,851h2v2h-2zM777,855h8v2h-8zM787,855h8v2h-8zM777,859h4v2h-4zM783,859h8v2h-8zM793,859h2v2h-2zM777,864h8v2h-8zM787,864h8v2h-8zM777,868h4v2h-4zM783,868h8v2h-8zM793,868h2v2h-2zM777,872h8v2h-8zM787,872h8v2h-8zM777,877h4v2h-4zM783,877h8v2h-8zM793,877h2v2h-2zM777,881h8v2h-8zM787,881h8v2h-8zM777,885h4v2h-4zM783,885h8v2h-8zM793,885h2v2h-2zM777,889h8v2h-8zM787,889h8v2h-8zM777,894h4v2h-4zM783,894h8v2h-8zM793,894h2v2h-2zM777,898h8v2h-8zM787,898h8v2h-8zM777,902h4v2h-4zM783,902h8v2h-8zM793,902h2v2h-2zM777,907h8v2h-8zM787,907h8v2h-8zM777,911h4v2h-4zM783,911h8v2h-8zM793,911h2v2h-2zM777,915h8v2h-8zM787,915h8v2h-8zM777,919h4v2h-4zM783,919h8v2h-8zM793,919h2v2h-2zM777,924h8v2h-8zM787,924h8v2h-8zM777,928h4v2h-4zM783,928h8v2h-8zM793,928h2v2h-2zM777,932h8v2h-8zM787,932h8v2h-8zM777,937h4v2h-4zM783,937h8v2h-8zM793,937h2v2h-2zM777,941h8v2h-8zM787,941h8v2h-8zM777,945h4v2h-4zM783,945h8v2h-8zM793,945h2v2h-2zM777,949h8v2h-8zM787,949h8v2h-8zM777,954h4v2h-4zM783,954h8v2h-8zM793,954h2v2h-2zM777,958h8v2h-8zM787,958h8v2h-8zM777,962h4v2h-4zM783,962h8v2h-8zM793,962h2v2h-2zM777,967h8v2h-8zM787,967h8v2h-8zM777,971h4v2h-4zM783,971h8v2h-8zM793,971h2v2h-2zM777,975h8v2h-8zM787,975h8v2h-8zM777,979h4v2h-4zM783,979h8v2h-8zM793,979h2v2h-2zM777,984h8v2h-8zM787,984h8v2h-8zM777,988h4v2h-4zM783,988h8v2h-8zM793,988h2v2h-2zM777,992h8v2h-8zM787,992h8v2h-8zM777,997h4v2h-4zM783,997h8v2h-8zM793,997h2v2h-2zM777,1001h8v2h-8zM787,1001h8v2h-8z"/>
<rect x="821.74" y="361.1" width="2.2" height="49.4"/>
<rect x="816.34" y="361.1" width="13" height="2.2"/>
<rect x="810.24" y="409.5" width="25.2" height="598.5"/>
<rect transform="translate(810.24,409.5)" x="3.7" y="3.45" width="17.8" height="592.05" fill="url(#p3)"/>
<rect x="858.21" y="988.9" width="3" height="8.4"/>
<rect x="853.21" y="988.9" width="13" height="3"/>
<rect x="847.11" y="996.3" width="25.2" height="11.7"/>
<rect x="895.08" y="878" width="3" height="11.4"/>
<rect x="890.08" y="878" width="13" height="3"/>
<rect x="883.98" y="888.4" width="25.2" height="119.6"/>
<rect transform="translate(883.98,888.4)" x="4.6" y="4.4" width="16" height="112.2" fill="url(#p5)"/>
<rect x="931.95" y="940.4" width="3" height="9.2"/>
<rect x="926.95" y="940.4" width="13" height="3"/>
<rect x="920.85" y="948.6" width="25.2" height="59.4"/>
<rect transform="translate(920.85,948.6)" x="4.4" y="3.8" width="16.4" height="52.6" fill="url(#p6)"/>
<rect x="968.82" y="942.5" width="3" height="7.1"/>
<rect x="963.82" y="942.5" width="13" height="3"/>
<rect x="957.72" y="948.6" width="25.2" height="59.4"/>
<rect transform="translate(957.72,948.6)" x="4.1" y="3.8" width="17" height="52.6" fill="url(#p7)"/>
<rect x="1005.69" y="961.9" width="3" height="23.2"/>
<rect x="1000.69" y="961.9" width="13" height="3"/>
<rect x="994.59" y="984.1" width="25.2" height="23.9"/>
<clipPath id="c3"><rect x="998.89" y="988.1" width="16.6" height="16.9"/></clipPath>
<g clip-path="url(#c3)"><polygon points="1015.48,1000.01 1010.92,1005.11 1004.46,1005.11 999.9,1000.01 999.9,992.79 1004.46,987.69 1010.92,987.69 1015.48,992.79" fill="#fff"/><polygon points="1004.49,996.4 1007.69,993.2 1010.89,996.4 1007.69,999.6" fill="#000"/>
</g>
<rect x="1068.2" y="211.3" width="2.2" height="38.6"/>
<rect x="1062.8" y="211.3" width="13" height="2.2"/>
<rect x="1056.7" y="248.9" width="25.2" height="759.1"/>
<rect x="1059.7" y="251.9" width="19.2" height="753.1" fill="#fff"/>
<path d="M1059.2,257h20.2v1.8h-20.2zM1059.2,265h20.2v1.8h-20.2zM1059.2,274h20.2v1.8h-20.2zM1059.2,283h20.2v1.8h-20.2zM1059.2,291h20.2v1.8h-20.2zM1059.2,300h20.2v1.8h-20.2zM1059.2,308h20.2v1.8h-20.2zM1059.2,317h20.2v1.8h-20.2zM1059.2,326h20.2v1.8h-20.2zM1059.2,334h20.2v1.8h-20.2zM1059.2,343h20.2v1.8h-20.2zM1059.2,352h20.2v1.8h-20.2zM1059.2,360h20.2v1.8h-20.2zM1059.2,369h20.2v1.8h-20.2zM1059.2,377h20.2v1.8h-20.2zM1059.2,386h20.2v1.8h-20.2zM1059.2,395h20.2v1.8h-20.2zM1059.2,403h20.2v1.8h-20.2zM1059.2,412h20.2v1.8h-20.2zM1059.2,420h20.2v1.8h-20.2zM1059.2,429h20.2v1.8h-20.2zM1059.2,438h20.2v1.8h-20.2zM1059.2,446h20.2v1.8h-20.2zM1059.2,455h20.2v1.8h-20.2zM1059.2,464h20.2v1.8h-20.2zM1059.2,472h20.2v1.8h-20.2zM1059.2,481h20.2v1.8h-20.2zM1059.2,489h20.2v1.8h-20.2zM1059.2,498h20.2v1.8h-20.2zM1059.2,507h20.2v1.8h-20.2zM1059.2,515h20.2v1.8h-20.2zM1059.2,524h20.2v1.8h-20.2zM1059.2,533h20.2v1.8h-20.2zM1059.2,541h20.2v1.8h-20.2zM1059.2,550h20.2v1.8h-20.2zM1059.2,558h20.2v1.8h-20.2zM1059.2,567h20.2v1.8h-20.2zM1059.2,576h20.2v1.8h-20.2zM1059.2,584h20.2v1.8h-20.2zM1059.2,593h20.2v1.8h-20.2zM1059.2,602h20.2v1.8h-20.2zM1059.2,610h20.2v1.8h-20.2zM1059.2,619h20.2v1.8h-20.2zM1059.2,627h20.2v1.8h-20.2zM1059.2,636h20.2v1.8h-20.2zM1059.2,645h20.2v1.8h-20.2zM1059.2,653h20.2v1.8h-20.2zM1059.2,662h20.2v1.8h-20.2zM1059.2,670h20.2v1.8h-20.2zM1059.2,679h20.2v1.8h-20.2zM1059.2,688h20.2v1.8h-20.2zM1059.2,696h20.2v1.8h-20.2zM1059.2,705h20.2v1.8h-20.2zM1059.2,714h20.2v1.8h-20.2zM1059.2,722h20.2v1.8h-20.2zM1059.2,731h20.2v1.8h-20.2zM1059.2,739h20.2v1.8h-20.2zM1059.2,748h20.2v1.8h-20.2zM1059.2,757h20.2v1.8h-20.2zM1059.2,765h20.2v1.8h-20.2zM1059.2,774h20.2v1.8h-20.2zM1059.2,783h20.2v1.8h-20.2zM1059.2,791h20.2v1.8h-20.2zM1059.2,800h20.2v1.8h-20.2zM1059.2,808h20.2v1.8h-20.2zM1059.2,817h20.2v1.8h-20.2zM1059.2,826h20.2v1.8h-20.2zM1059.2,834h20.2v1.8h-20.2zM1059.2,843h20.2v1.8h-20.2zM1059.2,851h20.2v1.8h-20.2zM1059.2,860h20.2v1.8h-20.2zM1059.2,869h20.2v1.8h-20.2zM1059.2,877h20.2v1.8h-20.2zM1059.2,886h20.2v1.8h-20.2zM1059.2,895h20.2v1.8h-20.2zM1059.2,903h20.2v1.8h-20.2zM1059.2,912h20.2v1.8h-20.2zM1059.2,920h20.2v1.8h-20.2zM1059.2,929h20.2v1.8h-20.2zM1059.2,938h20.2v1.8h-20.2zM1059.2,946h20.2v1.8h-20.2zM1059.2,955h20.2v1.8h-20.2zM1059.2,964h20.2v1.8h-20.2zM1059.2,972h20.2v1.8h-20.2zM1059.2,981h20.2v1.8h-20.2zM1059.2,989h20.2v1.8h-20.2zM1059.2,998h20.2v1.8h-20.2z"/>
<rect x="1105.07" y="328.4" width="2.2" height="40.5"/>
<rect x="1099.67" y="328.4" width="13" height="2.2"/>
<rect x="1093.57" y="367.9" width="25.2" height="640.1"/>
<path fill="#fff" d="M1097,371h8v2h-8zM1107,371h8v2h-8zM1097,375h4v2h-4zM1103,375h8v2h-8zM1113,375h2v2h-2zM1097,379h8v2h-8zM1107,379h8v2h-8zM1097,384h4v2h-4zM1103,384h8v2h-8zM1113,384h2v2h-2zM1097,388h8v2h-8zM1107,388h8v2h-8zM1097,392h4v2h-4zM1103,392h8v2h-8zM1113,392h2v2h-2zM1097,397h8v2h-8zM1107,397h8v2h-8zM1097,401h4v2h-4zM1103,401h8v2h-8zM1113,401h2v2h-2zM1097,405h8v2h-8zM1107,405h8v2h-8zM1097,409h4v2h-4zM1103,409h8v2h-8zM1113,409h2v2h-2zM1097,414h8v2h-8zM1107,414h8v2h-8zM1097,418h4v2h-4zM1103,418h8v2h-8zM1113,418h2v2h-2zM1097,422h8v2h-8zM1107,422h8v2h-8zM1097,427h4v2h-4zM1103,427h8v2h-8zM1113,427h2v2h-2zM1097,431h8v2h-8zM1107,431h8v2h-8zM1097,435h4v2h-4zM1103,435h8v2h-8zM1113,435h2v2h-2zM1097,439h8v2h-8zM1107,439h8v2h-8zM1097,444h4v2h-4zM1103,444h8v2h-8zM1113,444h2v2h-2zM1097,448h8v2h-8zM1107,448h8v2h-8zM1097,452h4v2h-4zM1103,452h8v2h-8zM1113,452h2v2h-2zM1097,457h8v2h-8zM1107,457h8v2h-8zM1097,461h4v2h-4zM1103,461h8v2h-8zM1113,461h2v2h-2zM1097,465h8v2h-8zM1107,465h8v2h-8zM1097,469h4v2h-4zM1103,469h8v2h-8zM1113,469h2v2h-2zM1097,474h8v2h-8zM1107,474h8v2h-8zM1097,478h4v2h-4zM1103,478h8v2h-8zM1113,478h2v2h-2zM1097,482h8v2h-8zM1107,482h8v2h-8zM1097,487h4v2h-4zM1103,487h8v2h-8zM1113,487h2v2h-2zM1097,491h8v2h-8zM1107,491h8v2h-8zM1097,495h4v2h-4zM1103,495h8v2h-8zM1113,495h2v2h-2zM1097,499h8v2h-8zM1107,499h8v2h-8zM1097,504h4v2h-4zM1103,504h8v2h-8zM1113,504h2v2h-2zM1097,508h8v2h-8zM1107,508h8v2h-8zM1097,512h4v2h-4zM1103,512h8v2h-8zM1113,512h2v2h-2zM1097,517h8v2h-8zM1107,517h8v2h-8zM1097,521h4v2h-4zM1103,521h8v2h-8zM1113,521h2v2h-2zM1097,525h8v2h-8zM1107,525h8v2h-8zM1097,529h4v2h-4zM1103,529h8v2h-8zM1113,529h2v2h-2zM1097,534h8v2h-8zM1107,534h8v2h-8zM1097,538h4v2h-4zM1103,538h8v2h-8zM1113,538h2v2h-2zM1097,542h8v2h-8zM1107,542h8v2h-8zM1097,547h4v2h-4zM1103,547h8v2h-8zM1113,547h2v2h-2zM1097,551h8v2h-8zM1107,551h8v2h-8zM1097,555h4v2h-4zM1103,555h8v2h-8zM1113,555h2v2h-2zM1097,559h8v2h-8zM1107,559h8v2h-8zM1097,564h4v2h-4zM1103,564h8v2h-8zM1113,564h2v2h-2zM1097,568h8v2h-8zM1107,568h8v2h-8zM1097,572h4v2h-4zM1103,572h8v2h-8zM1113,572h2v2h-2zM1097,577h8v2h-8zM1107,577h8v2h-8zM1097,581h4v2h-4zM1103,581h8v2h-8zM1113,581h2v2h-2zM1097,585h8v2h-8zM1107,585h8v2h-8zM1097,589h4v2h-4zM1103,589h8v2h-8zM1113,589h2v2h-2zM1097,594h8v2h-8zM1107,594h8v2h-8zM1097,598h4v2h-4zM1103,598h8v2h-8zM1113,598h2v2h-2zM1097,602h8v2h-8zM1107,602h8v2h-8zM1097,607h4v2h-4zM1103,607h8v2h-8zM1113,607h2v2h-2zM1097,611h8v2h-8zM1107,611h8v2h-8zM1097,615h4v2h-4zM1103,615h8v2h-8zM1113,615h2v2h-2zM1097,619h8v2h-8zM1107,619h8v2h-8zM1097,624h4v2h-4zM1103,624h8v2h-8zM1113,624h2v2h-2zM1097,628h8v2h-8zM1107,628h8v2h-8zM1097,632h4v2h-4zM1103,632h8v2h-8zM1113,632h2v2h-2zM1097,637h8v2h-8zM1107,637h8v2h-8zM1097,641h4v2h-4zM1103,641h8v2h-8zM1113,641h2v2h-2zM1097,645h8v2h-8zM1107,645h8v2h-8zM1097,649h4v2h-4zM1103,649h8v2h-8zM1113,649h2v2h-2zM1097,654h8v2h-8zM1107,654h8v2h-8zM1097,658h4v2h-4zM1103,658h8v2h-8zM1113,658h2v2h-2zM1097,662h8v2h-8zM1107,662h8v2h-8zM1097,667h4v2h-4zM1103,667h8v2h-8zM1113,667h2v2h-2zM1097,671h8v2h-8zM1107,671h8v2h-8zM1097,675h4v2h-4zM1103,675h8v2h-8zM1113,675h2v2h-2zM1097,679h8v2h-8zM1107,679h8v2h-8zM1097,684h4v2h-4zM1103,684h8v2h-8zM1113,684h2v2h-2zM1097,688h8v2h-8zM1107,688h8v2h-8zM1097,692h4v2h-4zM1103,692h8v2h-8zM1113,692h2v2h-2zM1097,697h8v2h-8zM1107,697h8v2h-8zM1097,701h4v2h-4zM1103,701h8v2h-8zM1113,701h2v2h-2zM1097,705h8v2h-8zM1107,705h8v2h-8zM1097,709h4v2h-4zM1103,709h8v2h-8zM1113,709h2v2h-2zM1097,714h8v2h-8zM1107,714h8v2h-8zM1097,718h4v2h-4zM1103,718h8v2h-8zM1113,718h2v2h-2zM1097,722h8v2h-8zM1107,722h8v2h-8zM1097,727h4v2h-4zM1103,727h8v2h-8zM1113,727h2v2h-2zM1097,731h8v2h-8zM1107,731h8v2h-8zM1097,735h4v2h-4zM1103,735h8v2h-8zM1113,735h2v2h-2zM1097,739h8v2h-8zM1107,739h8v2h-8zM1097,744h4v2h-4zM1103,744h8v2h-8zM1113,744h2v2h-2zM1097,748h8v2h-8zM1107,748h8v2h-8zM1097,752h4v2h-4zM1103,752h8v2h-8zM1113,752h2v2h-2zM1097,757h8v2h-8zM1107,757h8v2h-8zM1097,761h4v2h-4zM1103,761h8v2h-8zM1113,761h2v2h-2zM1097,765h8v2h-8zM1107,765h8v2h-8zM1097,769h4v2h-4zM1103,769h8v2h-8zM1113,769h2v2h-2zM1097,774h8v2h-8zM1107,774h8v2h-8zM1097,778h4v2h-4zM1103,778h8v2h-8zM1113,778h2v2h-2zM1097,782h8v2h-8zM1107,782h8v2h-8zM1097,787h4v2h-4zM1103,787h8v2h-8zM1113,787h2v2h-2zM1097,791h8v2h-8zM1107,791h8v2h-8zM1097,795h4v2h-4zM1103,795h8v2h-8zM1113,795h2v2h-2zM1097,799h8v2h-8zM1107,799h8v2h-8zM1097,804h4v2h-4zM1103,804h8v2h-8zM1113,804h2v2h-2zM1097,808h8v2h-8zM1107,808h8v2h-8zM1097,812h4v2h-4zM1103,812h8v2h-8zM1113,812h2v2h-2zM1097,817h8v2h-8zM1107,817h8v2h-8zM1097,821h4v2h-4zM1103,821h8v2h-8zM1113,821h2v2h-2zM1097,825h8v2h-8zM1107,825h8v2h-8zM1097,829h4v2h-4zM1103,829h8v2h-8zM1113,829h2v2h-2zM1097,834h8v2h-8zM1107,834h8v2h-8zM1097,838h4v2h-4zM1103,838h8v2h-8zM1113,838h2v2h-2zM1097,842h8v2h-8zM1107,842h8v2h-8zM1097,847h4v2h-4zM1103,847h8v2h-8zM1113,847h2v2h-2zM1097,851h8v2h-8zM1107,851h8v2h-8zM1097,855h4v2h-4zM1103,855h8v2h-8zM1113,855h2v2h-2zM1097,859h8v2h-8zM1107,859h8v2h-8zM1097,864h4v2h-4zM1103,864h8v2h-8zM1113,864h2v2h-2zM1097,868h8v2h-8zM1107,868h8v2h-8zM1097,872h4v2h-4zM1103,872h8v2h-8zM1113,872h2v2h-2zM1097,877h8v2h-8zM1107,877h8v2h-8zM1097,881h4v2h-4zM1103,881h8v2h-8zM1113,881h2v2h-2zM1097,885h8v2h-8zM1107,885h8v2h-8zM1097,889h4v2h-4zM1103,889h8v2h-8zM1113,889h2v2h-2zM1097,894h8v2h-8zM1107,894h8v2h-8zM1097,898h4v2h-4zM1103,898h8v2h-8zM1113,898h2v2h-2zM1097,902h8v2h-8zM1107,902h8v2h-8zM1097,907h4v2h-4zM1103,907h8v2h-8zM1113,907h2v2h-2zM1097,911h8v2h-8zM1107,911h8v2h-8zM1097,915h4v2h-4zM1103,915h8v2h-8zM1113,915h2v2h-2zM1097,919h8v2h-8zM1107,919h8v2h-8zM1097,924h4v2h-4zM1103,924h8v2h-8zM1113,924h2v2h-2zM1097,928h8v2h-8zM1107,928h8v2h-8zM1097,932h4v2h-4zM1103,932h8v2h-8zM1113,932h2v2h-2zM1097,936h8v2h-8zM1107,936h8v2h-8zM1097,941h4v2h-4zM1103,941h8v2h-8zM1113,941h2v2h-2zM1097,945h8v2h-8zM1107,945h8v2h-8zM1097,949h4v2h-4zM1103,949h8v2h-8zM1113,949h2v2h-2zM1097,954h8v2h-8zM1107,954h8v2h-8zM1097,958h4v2h-4zM1103,958h8v2h-8zM1113,958h2v2h-2zM1097,962h8v2h-8zM1107,962h8v2h-8zM1097,966h4v2h-4zM1103,966h8v2h-8zM1113,966h2v2h-2zM1097,971h8v2h-8zM1107,971h8v2h-8zM1097,975h4v2h-4zM1103,975h8v2h-8zM1113,975h2v2h-2zM1097,979h8v2h-8zM1107,979h8v2h-8zM1097,984h4v2h-4zM1103,984h8v2h-8zM1113,984h2v2h-2zM1097,988h8v2h-8zM1107,988h8v2h-8zM1097,992h4v2h-4zM1103,992h8v2h-8zM1113,992h2v2h-2zM1097,996h8v2h-8zM1107,996h8v2h-8zM1097,1001h4v2h-4zM1103,1001h8v2h-8zM1113,1001h2v2h-2z"/>
<rect x="1141.94" y="323.4" width="2.2" height="40.1"/>
<rect x="1136.54" y="323.4" width="13" height="2.2"/>
<rect x="1130.44" y="362.5" width="25.2" height="645.5"/>
<rect transform="translate(1130.44,362.5)" x="3.7" y="3.45" width="17.8" height="639.05" fill="url(#p3)"/>
<rect x="1178.41" y="989" width="3" height="8.9"/>
<rect x="1173.41" y="989" width="13" height="3"/>
<rect x="1167.31" y="996.9" width="25.2" height="11.1"/>
<rect x="1215.28" y="879.8" width="3" height="12.1"/>
<rect x="1210.28" y="879.8" width="13" height="3"/>
<rect x="1204.18" y="890.9" width="25.2" height="117.1"/>
<rect transform="translate(1204.18,890.9)" x="4.6" y="4.4" width="16" height="109.7" fill="url(#p5)"/>
<rect x="1252.15" y="940.5" width="3" height="9.7"/>
<rect x="1247.15" y="940.5" width="13" height="3"/>
<rect x="1241.05" y="949.2" width="25.2" height="58.8"/>
<rect transform="translate(1241.05,949.2)" x="4.4" y="3.8" width="16.4" height="52" fill="url(#p6)"/>
<rect x="1289.02" y="941.6" width="3" height="9.3"/>
<rect x="1284.02" y="941.6" width="13" height="3"/>
<rect x="1277.92" y="949.9" width="25.2" height="58.1"/>
<rect transform="translate(1277.92,949.9)" x="4.1" y="3.8" width="17" height="51.3" fill="url(#p7)"/>
<rect x="1325.89" y="965.8" width="3" height="20.7"/>
<rect x="1320.89" y="965.8" width="13" height="3"/>
<rect x="1314.79" y="985.5" width="25.2" height="22.5"/>
<clipPath id="c4"><rect x="1319.09" y="989.5" width="16.6" height="15.5"/></clipPath>
<g clip-path="url(#c4)"><polygon points="1336.98,1001.41 1332.42,1006.51 1325.96,1006.51 1321.4,1001.41 1321.4,994.19 1325.96,989.09 1332.42,989.09 1336.98,994.19" fill="#fff"/><polygon points="1325.99,997.8 1329.19,994.6 1332.39,997.8 1329.19,1001" fill="#000"/>
<polygon points="1319.09,991.8 1322.29,996.8 1322.29,998.8 1319.09,1003.8" fill="#fff"/>
</g>
</g>
<g id="axes">
<rect x="88.1" y="167.9" width="2.8" height="840.1"/>
<rect x="88.1" y="1005" width="1259.2" height="3"/>
<rect x="76.7" y="1005.1" width="12" height="2.8"/>
<text x="64.6" y="1013.9" font-family='"Liberation Serif", "Times New Roman", serif' font-size="22.2" fill="#262626">0</text>
<rect x="82.6" y="963.44" width="6" height="2.4"/>
<rect x="76.7" y="921.38" width="12" height="2.8"/>
<text x="54.2 64.6" y="930.18" font-family='"Liberation Serif", "Times New Roman", serif' font-size="22.2" fill="#262626">20</text>
<rect x="82.6" y="879.72" width="6" height="2.4"/>
<rect x="76.7" y="837.66" width="12" height="2.8"/>
<text x="54.2 64.6" y="846.46" font-family='"Liberation Serif", "Times New Roman", serif' font-size="22.2" fill="#262626">40</text>
<rect x="82.6" y="796" width="6" height="2.4"/>
<rect x="76.7" y="753.94" width="12" height="2.8"/>
<text x="54.2 64.6" y="762.74" font-family='"Liberation Serif", "Times New Roman", serif' font-size="22.2" fill="#262626">60</text>
<rect x="82.6" y="712.28" width="6" height="2.4"/>
<rect x="76.7" y="670.22" width="12" height="2.8"/>
<text x="54.2 64.6" y="679.02" font-family='"Liberation Serif", "Times New Roman", serif' font-size="22.2" fill="#262626">80</text>
<rect x="82.6" y="628.56" width="6" height="2.4"/>
<rect x="76.7" y="586.5" width="12" height="2.8"/>
<text x="45.8 54.2 64.6" y="595.3" font-family='"Liberation Serif", "Times New Roman", serif' font-size="22.2" fill="#262626">100</text>
<rect x="82.6" y="544.84" width="6" height="2.4"/>
<rect x="76.7" y="502.78" width="12" height="2.8"/>
<text x="45.8 54.2 64.6" y="511.58" font-family='"Liberation Serif", "Times New Roman", serif' font-size="22.2" fill="#262626">120</text>
<rect x="82.6" y="461.12" width="6" height="2.4"/>
<rect x="76.7" y="419.06" width="12" height="2.8"/>
<text x="45.8 54.2 64.6" y="427.86" font-family='"Liberation Serif", "Times New Roman", serif' font-size="22.2" fill="#262626">140</text>
<rect x="82.6" y="377.4" width="6" height="2.4"/>
<rect x="76.7" y="335.34" width="12" height="2.8"/>
<text x="45.8 54.2 64.6" y="344.14" font-family='"Liberation Serif", "Times New Roman", serif' font-size="22.2" fill="#262626">160</text>
<rect x="82.6" y="293.68" width="6" height="2.4"/>
<rect x="76.7" y="251.62" width="12" height="2.8"/>
<text x="45.8 54.2 64.6" y="260.42" font-family='"Liberation Serif", "Times New Roman", serif' font-size="22.2" fill="#262626">180</text>
<rect x="82.6" y="209.96" width="6" height="2.4"/>
<rect x="76.7" y="167.9" width="12" height="2.8"/>
<text x="43.8 54.2 64.6" y="176.7" font-family='"Liberation Serif", "Times New Roman", serif' font-size="22.2" fill="#262626">200</text>
<rect x="235.3" y="1006.5" width="3" height="12.3"/>
<text x="234.8" y="1044.2" font-family='"Liberation Serif", "Times New Roman", serif' font-size="25.2" text-anchor="middle" textLength="122.8" lengthAdjust="spacingAndGlyphs">CG, pre-test</text>
<rect x="555.65" y="1006.5" width="3" height="12.3"/>
<text x="555.15" y="1044.2" font-family='"Liberation Serif", "Times New Roman", serif' font-size="25.2" text-anchor="middle" textLength="120.7" lengthAdjust="spacingAndGlyphs">EG, pre-test</text>
<rect x="876" y="1006.5" width="3" height="12.3"/>
<text x="874.65" y="1044.2" font-family='"Liberation Serif", "Times New Roman", serif' font-size="25.2" text-anchor="middle" textLength="132.3" lengthAdjust="spacingAndGlyphs">CG, post-test</text>
<rect x="1196.35" y="1006.5" width="3" height="12.3"/>
<text x="1195.4" y="1044.2" font-family='"Liberation Serif", "Times New Roman", serif' font-size="25.2" text-anchor="middle" textLength="130.8" lengthAdjust="spacingAndGlyphs">EG, post-test</text>
</g>
<g id="sig">
<text x="1068.7" y="214.2" font-family='"Liberation Serif", "Times New Roman", serif' font-size="33" text-anchor="middle">*</text>
<text x="1216.3" y="883.3" font-family='"Liberation Serif", "Times New Roman", serif' font-size="33" text-anchor="middle">*</text>
<text x="1253.1" y="946.9" font-family='"Liberation Serif", "Times New Roman", serif' font-size="33" text-anchor="middle">*</text>
<text x="1290.6" y="948.9" font-family='"Liberation Serif", "Times New Roman", serif' font-size="33" text-anchor="middle">*</text>
</g>
<text x="713.2" y="1110.8" font-family='"Liberation Serif", "Times New Roman", serif' font-size="30.6" text-anchor="middle" font-weight="bold" textLength="325" lengthAdjust="spacingAndGlyphs">Time to evaluate groups</text>
<g transform="translate(28,658) rotate(-90)">
<text x="0" y="0" font-family='"Liberation Serif", "Times New Roman", serif' font-size="35" font-weight="bold" textLength="64.5" lengthAdjust="spacingAndGlyphs">Unit</text>
<text x="78.5" y="-1.2" font-family='"Liberation Serif", "Times New Roman", serif' font-size="23.5" font-weight="bold" textLength="45.5" lengthAdjust="spacingAndGlyphs">(cm)</text>
</g>
</svg></body></html>
